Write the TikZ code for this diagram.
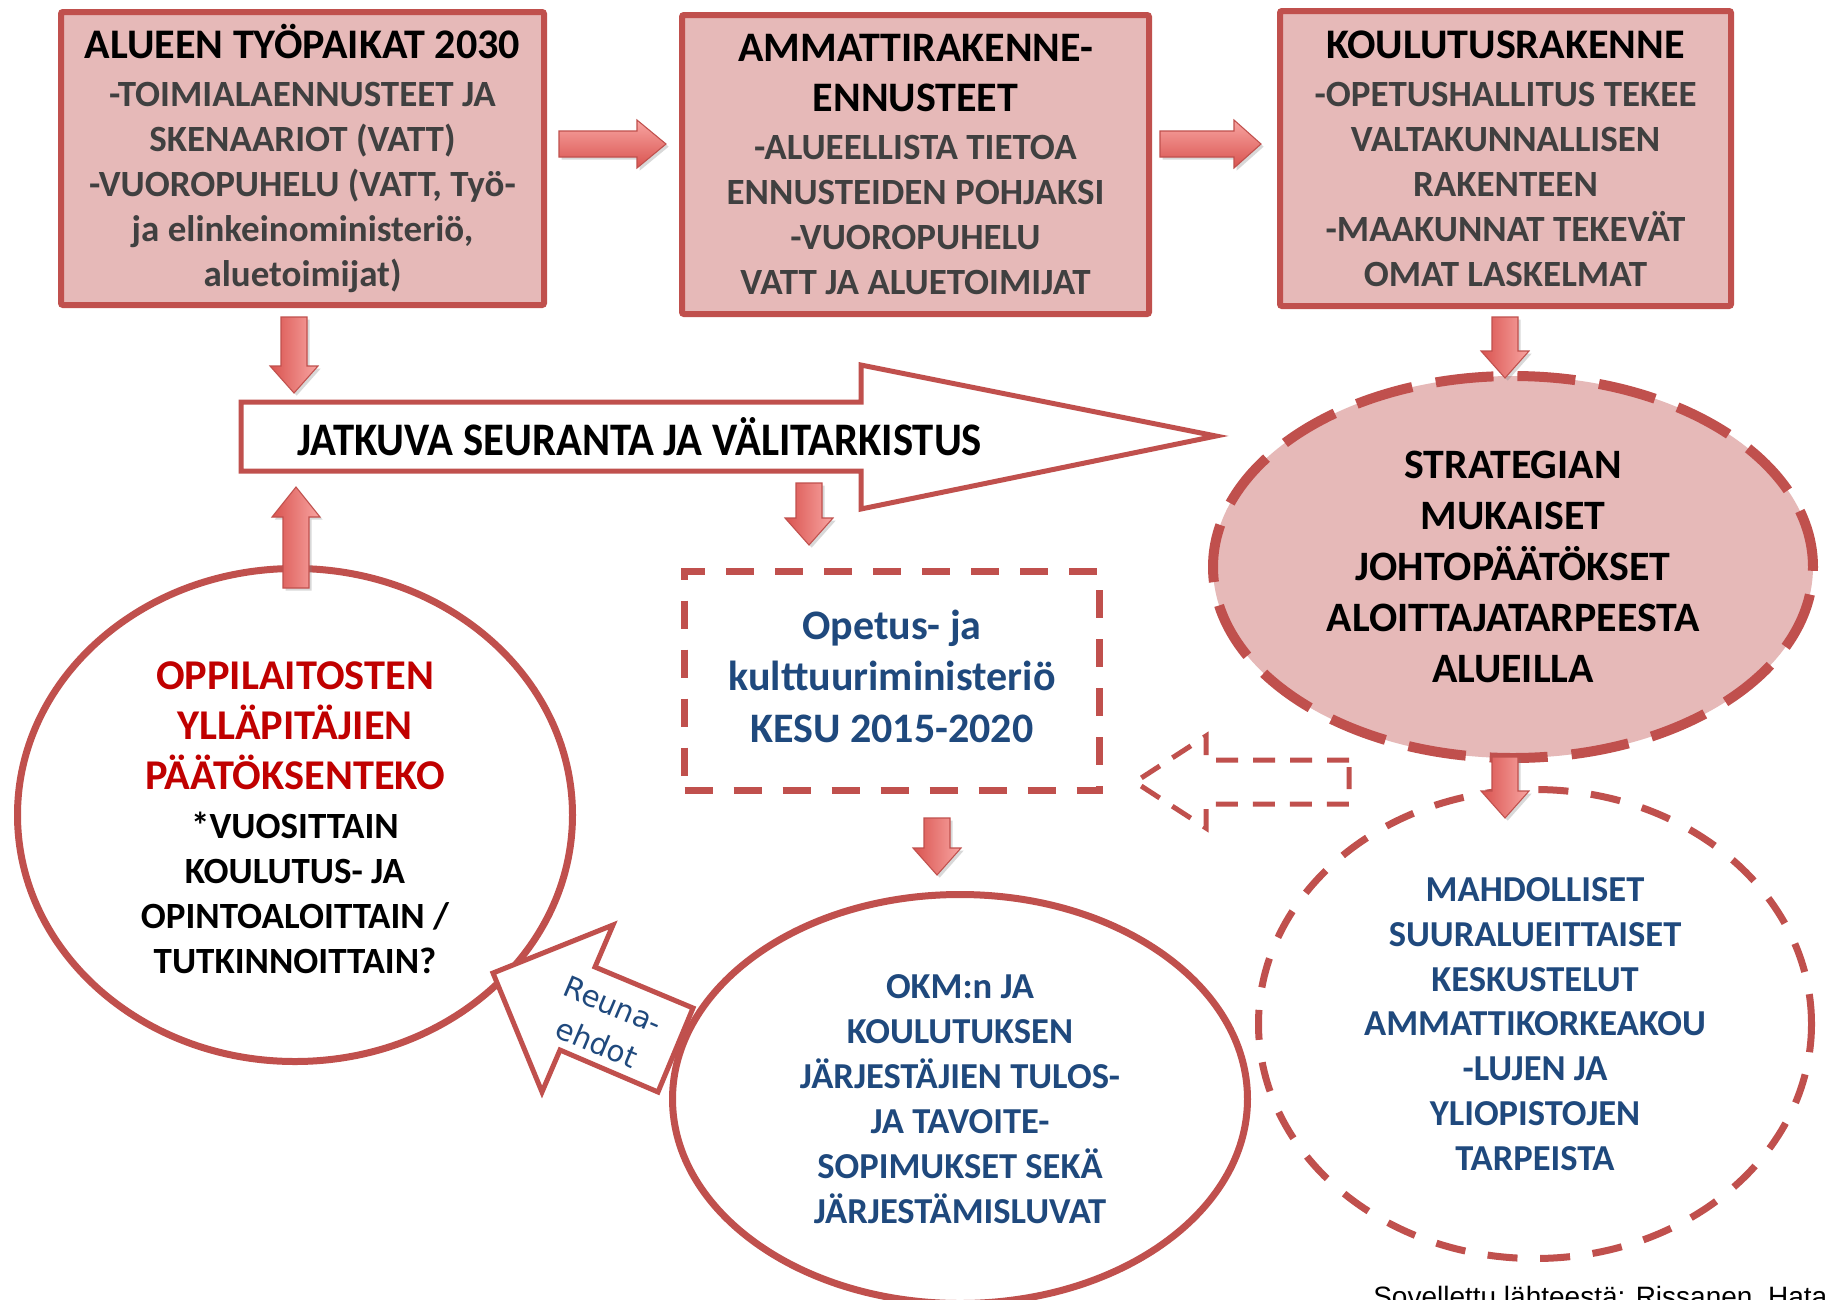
\documentclass[tikz,border=0pt]{standalone}
\usepackage{fontspec}
\usepackage{graphicx}
\setmainfont{Carlito}
\newfontfamily\dejavu{DejaVu Sans}
\newfontfamily\libsans{Liberation Sans}
\usetikzlibrary{shapes.geometric,shadows}
\definecolor{boxfill}{HTML}{E6B9B8}
\definecolor{boxline}{HTML}{C0504D}
\definecolor{bodygray}{HTML}{404040}
\definecolor{navy}{HTML}{1F497D}
\definecolor{redtext}{HTML}{C00000}
\definecolor{arrdark}{HTML}{D9534F}
\definecolor{arrlight}{HTML}{F8A5A2}
\newcommand\fsz[2]{\fontsize{#1}{#2}\selectfont}
\newcommand\dnarr[4]{\path[barrow] (#1-13,#2) -- (#1+13,#2) -- (#1+13,#3-#4) -- (#1+24,#3-#4) -- (#1,#3) -- (#1-24,#3-#4) -- (#1-13,#3-#4) -- cycle;}
\newcommand\uparr[4]{\path[barrow] (#1-13,#3) -- (#1+13,#3) -- (#1+13,#2+#4) -- (#1+24,#2+#4) -- (#1,#2) -- (#1-24,#2+#4) -- (#1-13,#2+#4) -- cycle;}
\newcommand\rtarr[4]{\path[barrowh] (#1,#3-13) -- (#2-#4,#3-13) -- (#2-#4,#3-24) -- (#2,#3) -- (#2-#4,#3+24) -- (#2-#4,#3+13) -- (#1,#3+13) -- cycle;}
\newcommand\hd[1]{{\color{black}\fsz{31.6}{36}#1}}
\newcommand\hdb[1]{{\color{black}\fsz{31.5}{37.5}#1}}
\newcommand\redl[1]{{\color{redtext}\fsz{31.8}{37.5}#1}}
\begin{document}
\begin{tikzpicture}[x=0.75pt,y=-0.75pt,
  topbox/.style={draw=boxline, line width=4.5pt, fill=boxfill, rectangle, rounded corners=1.5pt, inner sep=0pt, align=center, font=\bfseries\fsz{27.75}{33.75}, text=bodygray},
  barrow/.style={draw=boxline, line width=0.8pt, left color=arrdark, right color=arrlight, drop shadow={opacity=0.3, shadow xshift=2pt, shadow yshift=-2pt}},
  barrowh/.style={draw=boxline, line width=0.8pt, top color=arrlight, bottom color=arrdark, drop shadow={opacity=0.3, shadow xshift=2pt, shadow yshift=-2pt}},
  oval/.style={ellipse, draw=boxline, inner sep=0pt, align=center},
  outline/.style={draw=boxline, line join=miter}
]
\useasboundingbox (0,0) rectangle (1825,1300);
\fill[white] (0,0) rectangle (1825,1300);

% top boxes
\node[topbox, minimum width=362.25pt, minimum height=219.75pt] (jobs) at (302.5,158.5)
 {\hd{ALUEEN TYÖPAIKAT 2030}\\[2.25pt] -TOIMIALAENNUSTEET JA\\ SKENAARIOT (VATT)\\ -VUOROPUHELU (VATT, Työ-\\ ja elinkeinoministeriö,\\ aluetoimijat)};
\node[topbox, minimum width=350.25pt, minimum height=224.25pt] (occ) at (915.5,164.5)
 {\hdb{AMMATTIRAKENNE-}\\[3.75pt] \hdb{ENNUSTEET}\\[2.25pt] -ALUEELLISTA TIETOA\\ ENNUSTEIDEN POHJAKSI\\ -VUOROPUHELU\\ VATT JA ALUETOIMIJAT};
\node[topbox, minimum width=338.25pt, minimum height=221.25pt] (edu) at (1505.5,158.5)
 {\hd{KOULUTUSRAKENNE}\\[2.25pt] -OPETUSHALLITUS TEKEE\\ VALTAKUNNALLISEN\\ RAKENTEEN\\ -MAAKUNNAT TEKEVÄT\\ OMAT LASKELMAT};

\rtarr{559}{666}{144}{29}
\rtarr{1160}{1261}{144}{27}

% right side ellipses
\node[oval, line width=5.25pt, dash pattern=on 22.5pt off 17pt, minimum width=414.75pt, minimum height=351.75pt, font=\bfseries\fsz{27.4}{33.6}, text=navy] (mahd) at (1535,1024)
 {MAHDOLLISET\\ SUURALUEITTAISET\\ KESKUSTELUT\\ AMMATTIKORKEAKOU\\ -LUJEN JA\\ YLIOPISTOJEN\\ TARPEISTA};
\node[oval, fill=boxfill, line width=7.5pt, dash pattern=on 43.5pt off 18pt, minimum width=450pt, minimum height=286.5pt, font=\bfseries\fsz{31.4}{38.25}, text=black] (strat) at (1513,567)
 {STRATEGIAN\\ MUKAISET\\ JOHTOPÄÄTÖKSET\\ ALOITTAJATARPEESTA\\ ALUEILLA};
\dnarr{1505}{317}{378}{27}
\dnarr{1505}{757}{818}{27}

% big flow arrow
\draw[outline, line width=3.75pt, fill=white] (241,402) -- (861,402) -- (861,365) -- (1216,436) -- (861,509) -- (861,471) -- (241,471) -- cycle;
\node[anchor=west, inner sep=0pt, font=\bfseries\fsz{35}{40}] (flow) at (297,437)
 {\scalebox{0.915}[1]{JATKUVA SEURANTA JA VÄLITARKISTUS}};

% ministry dashed box
\node[rectangle, draw=boxline, line width=5.25pt, dash pattern=on 21pt off 15.75pt, minimum width=311.25pt, minimum height=164.25pt, inner sep=0pt, align=center, font=\bfseries\fsz{31.5}{38.6}, text=navy] (opetus) at (892,681) {};
\node[align=center, inner sep=0pt, font=\bfseries\fsz{31.5}{38.6}, text=navy] (opetustext) at (892,676)
 {Opetus- ja\\ kulttuuriministeriö\\ KESU 2015-2020};

% lower ellipses
\node[oval, fill=white, line width=5.25pt, minimum width=416.25pt, minimum height=369.75pt] (keep) at (295,815) {};
\node[align=center, inner sep=0pt, font=\bfseries\fsz{27.75}{33.75}, text=black] (keeptext) at (295,818)
 {\redl{OPPILAITOSTEN}\\[3.75pt] \redl{YLLÄPITÄJIEN}\\[3.75pt] \redl{PÄÄTÖKSENTEKO}\\[3pt] *VUOSITTAIN\\ KOULUTUS- JA\\ OPINTOALOITTAIN /\\ TUTKINNOITTAIN?};
\node[oval, fill=white, line width=5.25pt, minimum width=431.25pt, minimum height=306.75pt, font=\bfseries\fsz{27.4}{33.75}, text=navy] (okm) at (960,1099)
 {OKM:n JA\\ KOULUTUKSEN\\ JÄRJESTÄJIEN TULOS-\\ JA TAVOITE-\\ SOPIMUKSET SEKÄ\\ JÄRJESTÄMISLUVAT};

% small block arrows
\dnarr{294}{317}{393}{27}
\uparr{296}{487}{588}{30}
\dnarr{809}{483}{545}{27}
\dnarr{937}{818}{875}{27}

% dashed feedback arrow
\draw[outline, line width=3.75pt, dash pattern=on 16.5pt off 11.25pt] (1349,760) -- (1206,760) -- (1206,736) -- (1135,782) -- (1206,828) -- (1206,804) -- (1349,804) -- cycle;

% Reuna-ehdot arrow
\draw[outline, line width=3.75pt, fill=white] (493,973) -- (613,925) -- (595,967) -- (693,1008) -- (658,1092) -- (560,1050) -- (542,1092) -- cycle;
\node[rotate=-23, align=center, inner sep=0pt, font=\dejavu\fsz{22}{31}, text=navy] (reuna) at (605,1024) {Reuna-\\ehdot};

% source
\node[anchor=base west, inner sep=0pt, font=\libsans\fsz{21}{24}] (src) at (1373,1306) {Sovellettu lähteestä: Rissanen, Hata};
\end{tikzpicture}
\end{document}
